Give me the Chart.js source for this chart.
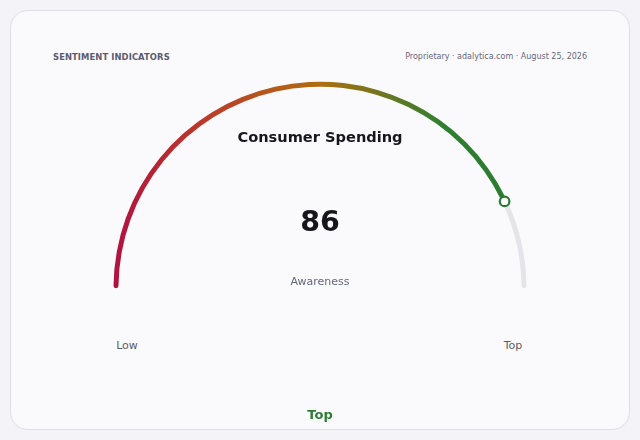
<!DOCTYPE html>
<html>
<head>
<meta charset="utf-8">
<script src="https://cdn.jsdelivr.net/npm/chart.js@4/dist/chart.umd.min.js"></script>
<style>
  html, body { margin: 0; padding: 0; }
  body { width: 640px; height: 440px; background: #f4f4f8; font-family: "DejaVu Sans", sans-serif; position: relative; overflow: hidden; }
  .card { position: absolute; left: 10px; top: 10px; width: 618px; height: 418px; border: 1px solid #dddde7; border-radius: 18px; background: #fafafd; }
  .t { position: absolute; white-space: nowrap; line-height: 20px; height: 20px; }
  .c { transform: translateX(-50%); }
  #gaugeBox { position: absolute; left: 110px; top: 75.25px; width: 420px; height: 220px; }
  #gauge { width: 420px; height: 220px; }
</style>
</head>
<body>
<div class="card"></div>
<div class="t" style="left:53px;top:47px;font-size:8.4px;font-weight:bold;letter-spacing:0.1px;color:#5c5c70;">SENTIMENT INDICATORS</div>
<div class="t" style="right:53px;top:47px;font-size:8px;color:#66667a;">Proprietary · adalytica.com · August 25, 2026</div>
<div id="gaugeBox"><canvas id="gauge" width="420" height="220"></canvas></div>
<div class="t c" id="title" style="left:320px;top:127px;font-size:14.6px;font-weight:bold;color:#16161c;"></div>
<div class="t c" id="value" style="left:320px;top:211px;font-size:28.5px;font-weight:bold;color:#16161c;line-height:22px;height:22px;"></div>
<div class="t c" id="metric" style="left:320px;top:272px;font-size:11px;color:#66667a;"></div>
<div class="t c" id="lowLbl" style="left:127px;top:336px;font-size:11px;color:#5c5c66;"></div>
<div class="t c" id="topLbl" style="left:513px;top:336px;font-size:11px;color:#5c5c66;"></div>
<div class="t c" id="band" style="left:320px;top:405px;font-size:13px;font-weight:bold;color:#2e7d32;"></div>
<script>
// gauge data
var chartTitle = 'Consumer Spending';
var metricName = 'Awareness';
var gaugeValue = 86;
var gaugeMax = 100;
var scaleLabels = ['Low', 'Top'];
var bandLabel = 'Top';
var gaugeRadius = 206.5;

document.getElementById('title').textContent = chartTitle;
document.getElementById('value').textContent = gaugeValue;
document.getElementById('metric').textContent = metricName;
document.getElementById('lowLbl').textContent = scaleLabels[0];
document.getElementById('topLbl').textContent = scaleLabels[1];
document.getElementById('band').textContent = bandLabel;

function arcColor(context) {
	if (context.dataIndex === 1) return '#e4e4e9';
	var chart = context.chart;
	var area = chart.chartArea;
	if (!area) return '#b5730e';
	var cx = (area.left + area.right) / 2;
	var g = chart.ctx.createLinearGradient(cx - gaugeRadius, 0, cx + gaugeRadius, 0);
	g.addColorStop(0, '#b0123f');
	g.addColorStop(0.22, '#bb3a2a');
	g.addColorStop(0.5, '#ae6e0f');
	g.addColorStop(0.8, '#2f7f30');
	g.addColorStop(1, '#2a7a32');
	return g;
}

var markerPlugin = {
	id: 'marker',
	afterDatasetsDraw: function(chart) {
		var arc = chart.getDatasetMeta(0).data[0];
		var r = (arc.innerRadius + arc.outerRadius) / 2;
		var mx = arc.x + Math.cos(arc.endAngle) * r;
		var my = arc.y + Math.sin(arc.endAngle) * r;
		var ctx = chart.ctx;
		ctx.save();
		ctx.beginPath();
		ctx.arc(mx, my, 4.8, 0, Math.PI * 2);
		ctx.fillStyle = '#ffffff';
		ctx.fill();
		ctx.lineWidth = 2.2;
		ctx.strokeStyle = '#2a7a32';
		ctx.stroke();
		ctx.restore();
	}
};

var ctx = document.getElementById('gauge').getContext('2d');
var gauge = new Chart(ctx, {
	type: 'doughnut',
	data: {
		labels: [metricName, 'Remaining'],
		datasets: [{
			data: [gaugeValue, gaugeMax - gaugeValue],
			backgroundColor: arcColor,
			borderWidth: 0,
			borderRadius: 2.5
		}]
	},
	options: {
		responsive: false,
		maintainAspectRatio: false,
		animation: false,
		events: [],
		rotation: -90,
		circumference: 180,
		radius: gaugeRadius,
		cutout: '97.6%',
		layout: { padding: 0 },
		plugins: {
			legend: { display: false },
			tooltip: { enabled: false }
		}
	},
	plugins: [markerPlugin]
});
</script>
</body>
</html>
